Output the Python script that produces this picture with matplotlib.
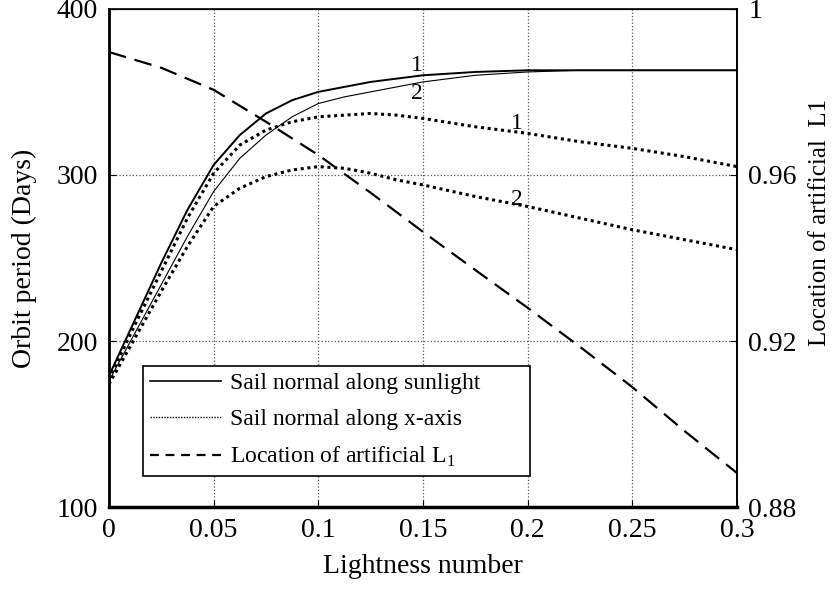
import matplotlib
matplotlib.use("Agg")
import matplotlib.pyplot as plt
from matplotlib.lines import Line2D
from matplotlib.ticker import FuncFormatter

plt.rcParams['font.family'] = ['Liberation Serif', 'DejaVu Serif']
plt.rcParams['mathtext.fontset'] = 'custom'
plt.rcParams['mathtext.rm'] = 'Liberation Serif'

# lightness number samples
x = [0, 0.0125, 0.025, 0.0375, 0.05, 0.0625, 0.075, 0.0875, 0.1, 0.1125,
     0.125, 0.1375, 0.15, 0.175, 0.2, 0.225, 0.25, 0.275, 0.3]

# orbit period (days), sail normal along sunlight
sun1 = [179, 213, 247, 279, 306, 324, 337, 345, 350, 353,
        356, 358, 360, 362, 363, 363, 363, 363, 363]
sun2 = [176, 205, 234, 263, 290, 310, 324, 335, 343, 347,
        350, 353, 356, 360, 362, 363, 363, 363, 363]
# orbit period (days), sail normal along x-axis
xax1 = [177, 210, 242, 274, 301, 318, 327, 332, 335, 336,
        337, 336, 334, 329, 325, 320, 316, 311, 305]
xax2 = [174, 202, 230, 257, 281, 292, 299, 303, 305, 304,
        301, 297, 294, 287, 281, 274, 267, 261, 255]

# location of artificial L1 (right axis)
xl = [0, 0.025, 0.05, 0.075, 0.1, 0.125, 0.15, 0.175, 0.2, 0.225, 0.25, 0.275, 0.3]
l1 = [0.9896, 0.9858, 0.9805, 0.9728, 0.9648, 0.9557, 0.9463, 0.9371,
      0.9280, 0.9186, 0.9089, 0.8983, 0.8882]

fig = plt.figure(figsize=(8.38, 5.89), dpi=100)
ax = fig.add_axes([0.130, 0.139, 0.7495, 0.846])
ax2 = ax.twinx()

# orbit period curves
ax.plot(x, sun1, color='black', lw=1.4)
ax.plot(x, sun2, color='black', lw=0.8)
ax.plot(x, xax1, color='black', lw=2.2, linestyle=(0, (1, 1.2)))
ax.plot(x, xax2, color='black', lw=2.2, linestyle=(0, (1, 1.2)))
# L1 location
ax2.plot(xl, l1, color='black', lw=1.6, linestyle=(0, (8, 4)))

# curve labels
ax.text(0.147, 366, '1', fontsize=17, ha='center', va='center')
ax.text(0.147, 349, '2', fontsize=17, ha='center', va='center')
ax.text(0.195, 331, '1', fontsize=17, ha='center', va='center')
ax.text(0.195, 285, '2', fontsize=17, ha='center', va='center')

ax.set_xlim(0, 0.3)
ax.set_ylim(100, 400)
ax2.set_ylim(0.88, 1.0)
ax.set_xticks([0, 0.05, 0.1, 0.15, 0.2, 0.25, 0.3])
ax.set_yticks([100, 200, 300, 400])
ax2.set_yticks([0.88, 0.92, 0.96, 1.0])
fmt = FuncFormatter(lambda v, p: '%g' % round(v, 4))
ax.xaxis.set_major_formatter(fmt)
ax2.yaxis.set_major_formatter(fmt)

ax.tick_params(direction='in', length=5, labelsize=20, pad=8)
ax2.tick_params(direction='in', length=5, labelsize=20, pad=8)
ax.grid(True, linestyle=':', color='#555555', lw=0.9)

ax.spines['bottom'].set_linewidth(2.5)
ax.spines['left'].set_linewidth(2)
ax.spines['top'].set_linewidth(1.2)
ax.spines['right'].set_linewidth(1.2)
ax2.spines['right'].set_linewidth(1.2)

ax.set_xlabel('Lightness number', fontsize=20, labelpad=8)
ax.set_ylabel('Orbit period (Days)', fontsize=20)
ax2.set_ylabel('Location of artificial  L1', fontsize=18)
ax.yaxis.set_label_coords(-0.115, 0.5)
ax2.yaxis.set_label_coords(1.114, 0.572)

handles = [Line2D([], [], color='black', lw=1.2),
           Line2D([], [], color='black', lw=1.0, linestyle=(0, (1, 1))),
           Line2D([], [], color='black', lw=1.6, linestyle=(0, (4, 3)))]
labels = ['Sail normal along sunlight', 'Sail normal along x-axis',
          'Location of artificial L$_1$']
leg = ax.legend(handles, labels, loc='lower left',
                bbox_to_anchor=(0.054, 0.062, 0.616, 0.215), mode='expand',
                borderaxespad=0, fontsize=17, fancybox=False,
                edgecolor='black', framealpha=1, handlelength=3.0,
                handletextpad=0.4, borderpad=0.3, labelspacing=0.62)
leg.get_frame().set_linewidth(1.2)
leg.set_zorder(5)

fig.savefig('out.png', dpi=100)
